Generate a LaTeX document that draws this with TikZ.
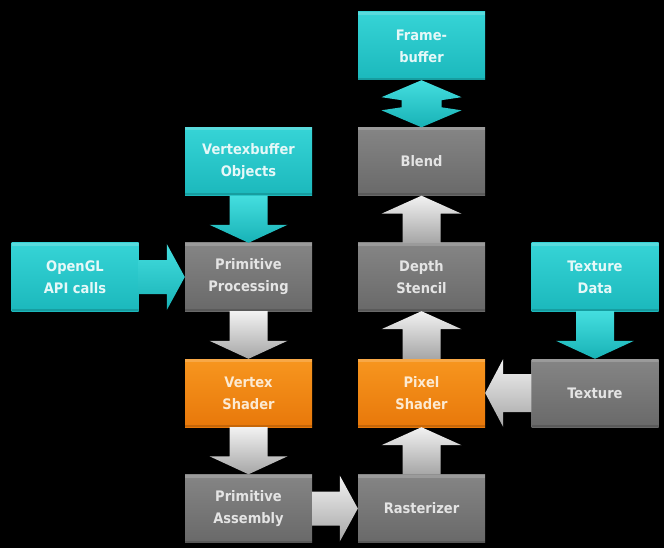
\documentclass[tikz,border=0pt]{standalone}
\usepackage{fontspec}
\IfFontExistsTF{DejaVu Sans Condensed}{\setmainfont{DejaVu Sans Condensed}\newcommand\boxsize{\fontsize{14.5}{22}\selectfont}}{\setmainfont{DejaVu Sans}\newcommand\boxsize{\fontsize{13.5}{22}\selectfont}}
\usetikzlibrary{calc}
\definecolor{cyanT}{HTML}{36D4D6}
\definecolor{cyanB}{HTML}{1BB8BC}
\definecolor{grayT}{HTML}{858585}
\definecolor{grayB}{HTML}{696969}
\definecolor{orT}{HTML}{F7961F}
\definecolor{orB}{HTML}{E8780A}
\definecolor{txtC}{HTML}{E6F8F8}
\definecolor{txtG}{HTML}{E4E4E4}
\definecolor{txtO}{HTML}{FCEAD2}
\definecolor{arrT}{HTML}{F2F2F2}
\definecolor{arrB}{HTML}{A6A6A6}
\definecolor{carrT}{HTML}{44DEDF}
\definecolor{carrB}{HTML}{18B2B6}
\tikzset{
  box/.style={minimum width=127pt, minimum height=68pt, inner sep=0pt, align=center,
    font=\boxsize\bfseries,
    path picture={\fill[white,opacity=0.18] (path picture bounding box.north west) rectangle ([yshift=-3pt]path picture bounding box.north east);
                  \fill[black,opacity=0.15] (path picture bounding box.south west) rectangle ([yshift=2pt]path picture bounding box.south east);}},
  cbox/.style={box, top color=cyanT, bottom color=cyanB, text=txtC},
  gbox/.style={box, top color=grayT, bottom color=grayB, text=txtG},
  obox/.style={box, top color=orT, bottom color=orB, text=txtO},
  garr/.style={top color=arrT, bottom color=arrB},
  carr/.style={top color=carrT, bottom color=carrB}
}
\newcommand\downarr[3]{\shade[#3] ($(#1.south)+(-19,0)$) -- ($(#2.north)+(-19,-18)$) -- ($(#2.north)+(-39,-18)$) -- (#2.north) -- ($(#2.north)+(39,-18)$) -- ($(#2.north)+(19,-18)$) -- ($(#1.south)+(19,0)$) -- cycle;}
\newcommand\uparr[3]{\shade[#3] ($(#1.north)+(-19,0)$) -- ($(#2.south)+(-19,18)$) -- ($(#2.south)+(-40,18)$) -- (#2.south) -- ($(#2.south)+(40,18)$) -- ($(#2.south)+(19,18)$) -- ($(#1.north)+(19,0)$) -- cycle;}
\newcommand\rightarr[3]{\shade[#3] ($(#1.east)+(0,-17)$) -- ($(#2.west)+(-18,-17)$) -- ($(#2.west)+(-18,-33)$) -- (#2.west) -- ($(#2.west)+(-18,33)$) -- ($(#2.west)+(-18,17)$) -- ($(#1.east)+(0,17)$) -- cycle;}
\newcommand\leftarr[3]{\shade[#3] ($(#1.west)+(0,-19)$) -- ($(#2.east)+(18,-19)$) -- ($(#2.east)+(18,-34)$) -- (#2.east) -- ($(#2.east)+(18,34)$) -- ($(#2.east)+(18,19)$) -- ($(#1.west)+(0,19)$) -- cycle;}
\begin{document}
\begin{tikzpicture}[x=1pt,y=-1pt]
\fill[black] (0,0) rectangle (664,548);
\useasboundingbox (0,0) rectangle (664,548);
% boxes
\node[cbox] (fb)   at (421.5,46)    {Frame-\\buffer};
\node[gbox] (bl)   at (421.5,161.5) {Blend};
\node[cbox] (vbo)  at (248.5,161.5) {Vertexbuffer\\Objects};
\node[cbox] (api)  at (75,277)      {OpenGL\\API calls};
\node[gbox] (pp)   at (248.5,277)   {Primitive\\Processing};
\node[gbox] (ds)   at (421.5,277)   {Depth\\Stencil};
\node[cbox] (td)   at (595,277)     {Texture\\Data};
\node[obox] (vs)   at (248.5,393)   {Vertex\\Shader};
\node[obox] (ps)   at (421.5,393)   {Pixel\\Shader};
\node[gbox] (tex)  at (595,393)     {Texture};
\node[gbox] (pa)   at (248.5,508.5) {Primitive\\Assembly};
\node[gbox] (ra)   at (421.5,508.5) {Rasterizer};
% arrows
\downarr{vbo}{pp}{carr}
\downarr{td}{tex}{carr}
\rightarr{api}{pp}{carr}
\downarr{pp}{vs}{garr}
\downarr{vs}{pa}{garr}
\rightarr{pa}{ra}{garr}
\uparr{ra}{ps}{garr}
\uparr{ps}{ds}{garr}
\uparr{ds}{bl}{garr}
\leftarr{tex}{ps}{garr}
% double arrow blend <-> framebuffer
\shade[carr] (fb.south) -- ($(fb.south)+(-40,17)$) -- ($(fb.south)+(-20,20)$) -- ($(bl.north)+(-20,-20)$) -- ($(bl.north)+(-40,-17)$) -- (bl.north) -- ($(bl.north)+(40,-17)$) -- ($(bl.north)+(20,-20)$) -- ($(fb.south)+(20,20)$) -- ($(fb.south)+(40,17)$) -- cycle;
\end{tikzpicture}
\end{document}
